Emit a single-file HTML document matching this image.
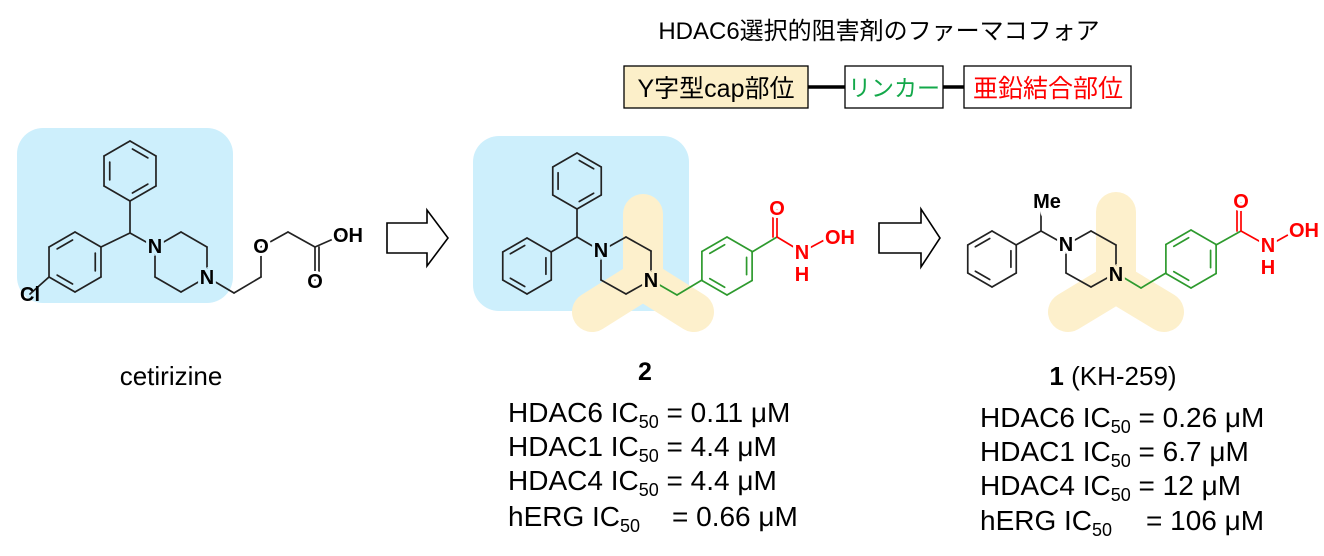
<!DOCTYPE html>
<html><head><meta charset="utf-8"><style>
body{margin:0;background:#fff;width:1324px;height:556px;overflow:hidden;font-family:"Liberation Sans","Noto Sans CJK JP",sans-serif}
svg{position:absolute;left:0;top:0}
.t{font-family:"Liberation Sans","Noto Sans CJK JP",sans-serif}
.a{font-family:"Liberation Sans",sans-serif;font-weight:bold;font-size:20px;text-anchor:middle;dominant-baseline:central}
.d{font-family:"Liberation Sans",sans-serif;font-size:28px}
</style></head><body>
<svg id="s" width="1324" height="556" viewBox="0 0 1324 556">
<rect x="17" y="128" width="216" height="175" rx="26" fill="#cdeffc"/>
<rect x="473" y="136" width="216" height="175" rx="26" fill="#cdeffc"/>
<g stroke="#fdf0cc" stroke-width="40" fill="none" stroke-linejoin="round" stroke-linecap="round">
<path d="M643 214 L643 280 M592 312 L643 280 L694 312"/>
<path d="M1116 212 L1116 283 M1068 312 L1116 283 L1164 312"/>
</g>
<g id="bonds" stroke-width="1.7" fill="none" stroke-linecap="round"></g>
<g id="labels">
<text class="a" x="30" y="295" fill="#000">Cl</text>
<text class="a" x="155" y="247" fill="#000" stroke="#cdeffc" stroke-width="6" paint-order="stroke">N</text>
<text class="a" x="207" y="278" fill="#000" stroke="#cdeffc" stroke-width="6" paint-order="stroke">N</text>
<text class="a" x="261" y="247" fill="#000" stroke="#fff" stroke-width="6" paint-order="stroke">O</text>
<text class="a" x="315" y="282" fill="#000" stroke="#fff" stroke-width="6" paint-order="stroke">O</text>
<text class="a" x="348" y="236" fill="#000" stroke="#fff" stroke-width="6" paint-order="stroke">OH</text>

<text class="a" x="601" y="251" fill="#000" stroke="#cdeffc" stroke-width="6" paint-order="stroke">N</text>
<text class="a" x="651" y="281" fill="#000" stroke="#fdf0cc" stroke-width="6" paint-order="stroke">N</text>
<text class="a" x="777" y="209" fill="#f00" stroke="#fff" stroke-width="6" paint-order="stroke">O</text>
<text class="a" x="802" y="253" fill="#f00" stroke="#fff" stroke-width="6" paint-order="stroke">N</text>
<text class="a" x="802" y="275" fill="#f00">H</text>
<text class="a" x="840" y="238" fill="#f00" stroke="#fff" stroke-width="6" paint-order="stroke">OH</text>

<text class="a" x="1047" y="202" fill="#000" stroke="#fff" stroke-width="6" paint-order="stroke">Me</text>
<text class="a" x="1066" y="245" fill="#000" stroke="#fff" stroke-width="6" paint-order="stroke">N</text>
<text class="a" x="1116" y="275" fill="#000" stroke="#fdf0cc" stroke-width="6" paint-order="stroke">N</text>
<text class="a" x="1241" y="202" fill="#f00" stroke="#fff" stroke-width="6" paint-order="stroke">O</text>
<text class="a" x="1268" y="246" fill="#f00" stroke="#fff" stroke-width="6" paint-order="stroke">N</text>
<text class="a" x="1268" y="268" fill="#f00">H</text>
<text class="a" x="1304" y="231" fill="#f00" stroke="#fff" stroke-width="6" paint-order="stroke">OH</text>
</g>
<path d="M387 223 L427 223 L427 210 L448 238 L427 266 L427 253 L387 253 Z" fill="#fff" stroke="#000" stroke-width="1.6"/>
<path d="M879 223 L921 223 L921 209 L940 238 L921 267 L921 253 L879 253 Z" fill="#fff" stroke="#000" stroke-width="1.6"/>
<text class="t" x="879" y="39" font-size="24" text-anchor="middle">HDAC6選択的阻害剤のファーマコフォア</text>
<line x1="808" y1="87" x2="845" y2="87" stroke="#000" stroke-width="3.5"/>
<line x1="943" y1="87" x2="964" y2="87" stroke="#000" stroke-width="3.5"/>
<rect x="624" y="66" width="184" height="42" fill="#fcefc9" stroke="#000" stroke-width="1.3"/>
<rect x="845" y="66" width="98" height="42" fill="#fff" stroke="#000" stroke-width="1.3"/>
<rect x="964" y="66" width="167" height="42" fill="#fff" stroke="#000" stroke-width="1.3"/>
<text class="t" x="716" y="97" font-size="25" text-anchor="middle">Y字型cap部位</text>
<text class="t" x="894" y="96" font-size="23" text-anchor="middle" fill="#13a84a">リンカー</text>
<text class="t" x="1048" y="97" font-size="25" text-anchor="middle" fill="#f00">亜鉛結合部位</text>
<text class="t" x="171" y="385" font-size="26" text-anchor="middle">cetirizine</text>
<text class="t" x="645" y="380" font-size="25" font-weight="bold" text-anchor="middle">2</text>
<text class="t" x="1113" y="385" font-size="26" text-anchor="middle"><tspan font-weight="bold">1</tspan> (KH-259)</text>
<g class="d">
<text x="508" y="422">HDAC6 IC<tspan font-size="18" dy="6">50</tspan><tspan dy="-6"> = 0.11 μM</tspan></text>
<text x="508" y="456">HDAC1 IC<tspan font-size="18" dy="6">50</tspan><tspan dy="-6"> = 4.4 μM</tspan></text>
<text x="508" y="490">HDAC4 IC<tspan font-size="18" dy="6">50</tspan><tspan dy="-6"> = 4.4 μM</tspan></text>
<text x="508" y="526">hERG IC<tspan font-size="18" dy="6">50</tspan><tspan dy="-6" x="672">= 0.66 μM</tspan></text>
<text x="980" y="427">HDAC6 IC<tspan font-size="18" dy="6">50</tspan><tspan dy="-6"> = 0.26 μM</tspan></text>
<text x="980" y="461">HDAC1 IC<tspan font-size="18" dy="6">50</tspan><tspan dy="-6"> = 6.7 μM</tspan></text>
<text x="980" y="495">HDAC4 IC<tspan font-size="18" dy="6">50</tspan><tspan dy="-6"> = 12 μM</tspan></text>
<text x="980" y="530">hERG IC<tspan font-size="18" dy="6">50</tspan><tspan dy="-6" x="1146">= 106 μM</tspan></text>
</g>
</svg>
<script>
var g=document.getElementById('bonds'),NS='http://www.w3.org/2000/svg';
function ln(p,q,col){var l=document.createElementNS(NS,'line');l.setAttribute('x1',p[0]);l.setAttribute('y1',p[1]);l.setAttribute('x2',q[0]);l.setAttribute('y2',q[1]);l.setAttribute('stroke',col||'#222');g.appendChild(l);}
function ring(cx,cy,r,col,dbl){var v=[];for(var i=0;i<6;i++){var a=(-90+60*i)*Math.PI/180;v.push([cx+r*Math.cos(a),cy+r*Math.sin(a)]);}
for(i=0;i<6;i++){ln(v[i],v[(i+1)%6],col);}
(dbl||[0,2,4]).forEach(function(i){var a=v[i],b=v[(i+1)%6],s=0.78;
var p=[cx+(a[0]-cx)*s,cy+(a[1]-cy)*s],q=[cx+(b[0]-cx)*s,cy+(b[1]-cy)*s];
var m=[p[0]+(q[0]-p[0])*0.12,p[1]+(q[1]-p[1])*0.12],n=[p[0]+(q[0]-p[0])*0.88,p[1]+(q[1]-p[1])*0.88];ln(m,n,col);});}
function path(pts,col){for(var i=0;i<pts.length-1;i++)ln(pts[i],pts[i+1],col);}
function dbl(p,q,col,side){ln(p,q,col);var dx=q[0]-p[0],dy=q[1]-p[1],len=Math.hypot(dx,dy),nx=-dy/len*4*side,ny=dx/len*4*side;ln([p[0]+nx,p[1]+ny],[q[0]+nx,q[1]+ny],col);}
ring(130,171,30,'#222',[0,2,4]);
ring(75,262,30,'#222',[5,1,3]);
path([[130,201],[130,233],[155,247]]);path([[130,233],[101,247]]);
path([[155,247],[181,232],[207,247],[207,277],[181,292],[155,277],[155,247]]);
path([[49,277],[30,294]]);
path([[207,277],[234,293],[261,277],[261,247],[288,232],[315,247]]);
dbl([315,247],[315,280],'#222',-1);path([[315,247],[340,236]]);
ring(577,181,28,'#222',[0,2,4]);
ring(527,266,28,'#222',[5,1,3]);
path([[577,209],[577,237],[601,251]]);path([[577,237],[551,252]]);
path([[601,251],[626,237],[651,251],[651,280],[626,294],[601,280],[601,251]]);
var G='#2e9a2e';
path([[651,280],[677,295],[702,280]],G);
ring(727,266,29,G,[1,3,5]);
path([[752,252],[777,237]],G);
dbl([777,237],[777,210],'#f00',-1);path([[777,237],[802,252]],'#f00');path([[802,252],[830,237]],'#f00');
ring(992,259,28,'#222',[5,1,3]);
path([[1016,245],[1041,231],[1066,245]]);path([[1041,231],[1041,203]]);
path([[1066,245],[1091,231],[1116,245],[1116,273],[1091,287],[1066,273],[1066,245]]);
path([[1116,273],[1141,288],[1166,273]],G);
ring(1191,259,29,G,[1,3,5]);
path([[1216,245],[1241,231]],G);
dbl([1241,231],[1241,203],'#f00',-1);path([[1241,231],[1268,246]],'#f00');path([[1268,246],[1295,231]],'#f00');
document.getElementById('s').appendChild(document.getElementById('labels'));
</script>
</body></html>
